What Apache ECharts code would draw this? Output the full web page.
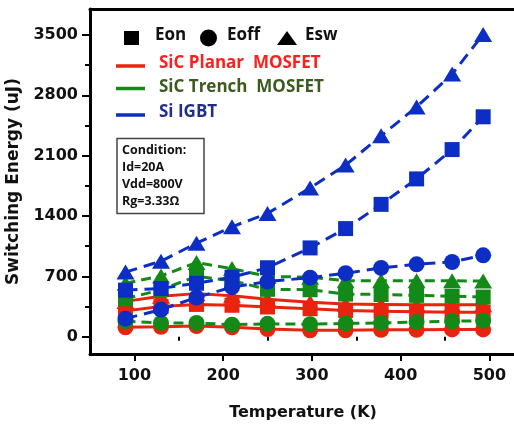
<!DOCTYPE html>
<html>
<head>
<meta charset="utf-8">
<script src="https://cdn.jsdelivr.net/npm/echarts@6/dist/echarts.min.js"></script>
<style>
  html, body { margin: 0; padding: 0; background: #fff; }
  #chart { width: 514px; height: 424px; }
</style>
</head>
<body>
<div id="chart"></div>
<script>
// Temperature points (K)
const temps = [90, 130, 170, 210, 250, 298, 338, 378, 418, 458, 493];

// SiC planar MOSFET switching energies (uJ)
const planarEon  = [300, 350, 375, 365, 345, 325, 305, 295, 290, 285, 285];
const planarEoff = [110, 115, 125, 110, 90, 75, 75, 80, 80, 85, 85];
const planarEsw  = [410, 470, 500, 475, 435, 400, 380, 375, 370, 370, 370];

// SiC trench MOSFET switching energies (uJ)
const trenchEon  = [440, 545, 700, 650, 550, 545, 495, 490, 480, 470, 460];
const trenchEoff = [180, 160, 160, 140, 150, 145, 155, 160, 170, 180, 185];
const trenchEsw  = [620, 705, 860, 790, 700, 690, 650, 650, 650, 650, 645];

// Si IGBT switching energies (uJ)
const igbtEon  = [540, 560, 620, 690, 800, 1030, 1254, 1535, 1830, 2170, 2550];
const igbtEoff = [210, 315, 455, 575, 640, 685, 736, 798, 840, 867, 944];
const igbtEsw  = [750, 875, 1085, 1275, 1430, 1725, 1990, 2330, 2665, 3045, 3505];

// Axis ticks
const yTicks = [0, 700, 1400, 2100, 2800, 3500];
const yMinorTicks = [350, 1050, 1750, 2450, 3150];
const xTicks = [100, 200, 300, 400, 500];
const xMinorTicks = [150, 250, 350, 450];

const RED = '#e8230e', GREEN = '#138a17', BLUE = '#0c2ec4';
const axisFont = 'DejaVu Sans';
const legendFont = 'Open Sans';

function pairs(ys) { return temps.map((t, i) => [t, ys[i]]); }

function makeSeries(name, values, color, symbol, size, dash, z) {
  return {
    name: name,
    type: 'line',
    data: pairs(values),
    xAxisIndex: 0,
    yAxisIndex: 0,
    symbol: symbol,
    symbolSize: size,
    showAllSymbol: true,
    clip: false,
    z: z,
    itemStyle: { color: color, opacity: 1 },
    lineStyle: { color: color, width: 3, type: dash },
    emphasis: { disabled: true }
  };
}

const SQ = 15, CI = 16, TR = [18, 15];
const blueDash = [12, 7], greenDash = [10, 6];

const series = [
  makeSeries('SiC Planar MOSFET Esw', planarEsw, RED, 'triangle', TR, 'solid', 2),
  makeSeries('SiC Planar MOSFET Eon', planarEon, RED, 'rect', SQ, 'solid', 2),
  makeSeries('SiC Planar MOSFET Eoff', planarEoff, RED, 'circle', CI, 'solid', 2),
  makeSeries('SiC Trench MOSFET Eon', trenchEon, GREEN, 'rect', SQ, greenDash, 3),
  makeSeries('SiC Trench MOSFET Esw', trenchEsw, GREEN, 'triangle', TR, greenDash, 3),
  makeSeries('SiC Trench MOSFET Eoff', trenchEoff, GREEN, 'circle', CI, greenDash, 3),
  makeSeries('Si IGBT Eon', igbtEon, BLUE, 'rect', SQ, blueDash, 4),
  makeSeries('Si IGBT Esw', igbtEsw, BLUE, 'triangle', TR, blueDash, 4),
  makeSeries('Si IGBT Eoff', igbtEoff, BLUE, 'circle', CI, blueDash, 4)
];

const labelStyle = { fontFamily: axisFont, fontWeight: 'bold', fontSize: 16, color: '#111' };
const plain = v => String(v);

const chart = echarts.init(document.getElementById('chart'), null, { renderer: 'canvas' });

chart.setOption({
  animation: false,
  backgroundColor: '#fff',
  grid: { left: 90, top: 9, right: -2, bottom: 70, containLabel: false, outerBoundsMode: 'none' },
  xAxis: [
    {
      type: 'value', min: 50, max: 530, position: 'bottom',
      name: 'Temperature (K)', nameLocation: 'middle', nameGap: 51,
      nameTextStyle: { fontFamily: axisFont, fontWeight: 'bold', fontSize: 16, color: '#111' },
      axisLine: { show: true, onZero: false, lineStyle: { color: '#000', width: 3 } },
      axisTick: { show: true, inside: false, length: 7, customValues: xTicks, lineStyle: { color: '#000', width: 2 } },
      axisLabel: Object.assign({ show: true, margin: 14, customValues: xTicks, formatter: plain }, labelStyle),
      splitLine: { show: false }
    },
    {
      type: 'value', min: 50, max: 530, position: 'bottom',
      axisLine: { show: false },
      axisTick: { show: true, inside: false, length: 4, customValues: xMinorTicks, lineStyle: { color: '#000', width: 2 } },
      axisLabel: { show: false, customValues: xMinorTicks },
      splitLine: { show: false }
    },
    {
      type: 'value', min: 50, max: 530, position: 'top',
      axisLine: { show: true, onZero: false, lineStyle: { color: '#000', width: 3 } },
      axisTick: { show: false },
      axisLabel: { show: false },
      splitLine: { show: false }
    }
  ],
  yAxis: [
    {
      type: 'value', min: -200, max: 3800, position: 'left',
      name: 'Switching Energy (uJ)', nameLocation: 'middle', nameGap: 62, nameRotate: 90,
      nameTextStyle: { fontFamily: axisFont, fontWeight: 'bold', fontSize: 17, color: '#111' },
      axisLine: { show: true, onZero: false, lineStyle: { color: '#000', width: 3 } },
      axisTick: { show: true, inside: false, length: 8, customValues: yTicks, lineStyle: { color: '#000', width: 2 } },
      axisLabel: Object.assign({ show: true, margin: 12, customValues: yTicks, formatter: plain }, labelStyle),
      splitLine: { show: false }
    },
    {
      type: 'value', min: -200, max: 3800, position: 'left',
      axisLine: { show: false },
      axisTick: { show: true, inside: false, length: 5, customValues: yMinorTicks, lineStyle: { color: '#000', width: 2 } },
      axisLabel: { show: false, customValues: yMinorTicks },
      splitLine: { show: false }
    }
  ],
  series: series,
  graphic: [
    // marker-shape key
    { type: 'rect', shape: { x: 124, y: 31, width: 15, height: 14 }, style: { fill: '#000' }, z: 10 },
    { type: 'text', left: 155, top: 27, style: { text: 'Eon', fontFamily: legendFont, fontWeight: 'bold', fontSize: 17, fill: '#111' }, z: 10 },
    { type: 'circle', shape: { cx: 208.5, cy: 38, r: 8.5 }, style: { fill: '#000' }, z: 10 },
    { type: 'text', left: 227, top: 27, style: { text: 'Eoff', fontFamily: legendFont, fontWeight: 'bold', fontSize: 17, fill: '#111' }, z: 10 },
    { type: 'polygon', shape: { points: [[287, 31], [297, 45], [277, 45]] }, style: { fill: '#000' }, z: 10 },
    { type: 'text', left: 305, top: 27, style: { text: 'Esw', fontFamily: legendFont, fontWeight: 'bold', fontSize: 17, fill: '#111' }, z: 10 },

    // device key
    { type: 'line', shape: { x1: 116, y1: 66, x2: 145, y2: 66 }, style: { stroke: RED, lineWidth: 3.5 }, z: 10 },
    { type: 'text', left: 159, top: 55, style: { text: 'SiC Planar  MOSFET', fontFamily: legendFont, fontWeight: 'bold', fontSize: 17, fill: '#ff1e1e' }, z: 10 },
    { type: 'line', shape: { x1: 116, y1: 88.5, x2: 145, y2: 88.5 }, style: { stroke: GREEN, lineWidth: 3.5 }, z: 10 },
    { type: 'text', left: 159, top: 79, style: { text: 'SiC Trench  MOSFET', fontFamily: legendFont, fontWeight: 'bold', fontSize: 17, fill: '#3c5a1e' }, z: 10 },
    { type: 'line', shape: { x1: 116, y1: 115, x2: 145, y2: 115 }, style: { stroke: BLUE, lineWidth: 3.5 }, z: 10 },
    { type: 'text', left: 159, top: 104, style: { text: 'Si IGBT', fontFamily: legendFont, fontWeight: 'bold', fontSize: 17, fill: '#1e2e8c' }, z: 10 },

    // test condition box
    { type: 'rect', shape: { x: 117, y: 138.5, width: 87, height: 75 }, style: { fill: '#fff', stroke: '#444', lineWidth: 1.5 }, z: 10 },
    {
      type: 'text', left: 122, top: 142, z: 11,
      style: {
        text: 'Condition:\nId=20A\nVdd=800V\nRg=3.33Ω',
        fontFamily: legendFont, fontWeight: 'bold', fontSize: 12.5, lineHeight: 17, fill: '#111'
      }
    }
  ]
});
</script>
</body>
</html>
